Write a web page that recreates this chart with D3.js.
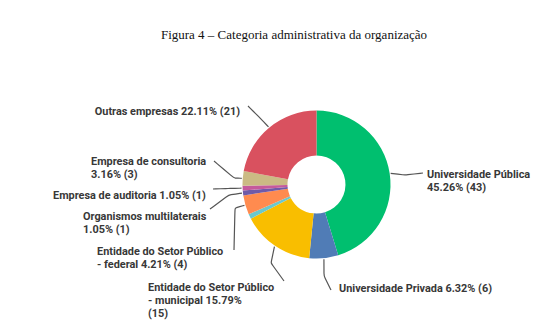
<!DOCTYPE html>
<html>
<head>
<meta charset="utf-8">
<script src="https://cdn.jsdelivr.net/npm/d3@7"></script>
<style>
  html, body { margin: 0; padding: 0; background: #fff; }
  svg { display: block; }
  .lbl { font-family: Roboto, "Open Sans", sans-serif; font-weight: 700; font-size: 10.9px; fill: #383838; }
  .title { font-family: "Liberation Serif", "Times New Roman", serif; font-size: 13px; fill: #111; }
</style>
</head>
<body>
<svg id="chart" width="546" height="335"></svg>
<script>
// Respondents by administrative category of their organization (n = 95)
const categories = [
  "Universidade Pública",
  "Universidade Privada",
  "Entidade do Setor Público - municipal",
  "Outros",
  "Entidade do Setor Público - federal",
  "Organismos multilaterais",
  "Empresa de auditoria",
  "Empresa de consultoria",
  "Outras empresas"
];
const counts = [43, 6, 15, 1, 4, 1, 1, 3, 21];
const percents = [45.26, 6.32, 15.79, 1.05, 4.21, 1.05, 1.05, 3.16, 22.11];
// text lines for each slice label (null = slice not labelled)
const labelLines = [
  ["Universidade Pública", "45.26% (43)"],
  ["Universidade Privada 6.32% (6)"],
  ["Entidade do Setor Público", "- municipal 15.79%", "(15)"],
  null,
  ["Entidade do Setor Público", "- federal 4.21% (4)"],
  ["Organismos multilaterais", "1.05% (1)"],
  ["Empresa de auditoria 1.05% (1)"],
  ["Empresa de consultoria", "3.16% (3)"],
  ["Outras empresas 22.11% (21)"]
];
const colors = ["#00bf6f", "#507cb6", "#f9be00", "#6bc8cd", "#ff8b4f", "#6f5aa8", "#c55a9c", "#cbba84", "#d9515f"];

// label placement: text origin, alignment, and leader-line path towards the slice
const layout = [
  { x: 427, y: 178, anchor: "start", start: [423, 173], elbow: [405, 175] },
  { x: 339, y: 292, anchor: "start", start: [331, 290], elbow: [324, 276] },
  { x: 148, y: 291, anchor: "start", start: [284, 281], elbow: [271, 263] },
  null,
  { x: 97,  y: 255, anchor: "start", start: [234, 250], elbow: [235, 208] },
  { x: 83,  y: 220, anchor: "start", start: [210, 209], elbow: [229, 195] },
  { x: 53,  y: 199, anchor: "start", start: [213, 189], elbow: [228, 188.5] },
  { x: 91,  y: 165, anchor: "start", start: [214, 161], elbow: [234, 178] },
  { x: 240, y: 115, anchor: "end",   start: [248, 106], elbow: [259, 117] }
];

const svg = d3.select("#chart");
const cx = 316.5, cy = 184.5, rOuter = 74, rInner = 29;

svg.append("text").attr("class", "title")
  .attr("x", 294).attr("y", 39).attr("text-anchor", "middle")
  .text("Figura 4 – Categoria administrativa da organização");

const data = categories.map((c, i) => ({ name: c, count: counts[i], pct: percents[i], i }));
const pie = d3.pie().value(d => d.count).sort(null);
const arcs = pie(data);
const arc = d3.arc().innerRadius(rInner).outerRadius(rOuter);
const anchorArc = d3.arc().innerRadius(rOuter + 1).outerRadius(rOuter + 1);

const g = svg.append("g").attr("transform", `translate(${cx},${cy})`);
g.selectAll("path.slice").data(arcs).join("path")
  .attr("class", "slice")
  .attr("d", arc)
  .attr("fill", d => colors[d.data.i]);

// leader lines
const line = d3.line().curve(d3.curveBasis);
arcs.forEach(a => {
  const L = layout[a.data.i];
  if (!L) return;
  const c = anchorArc.centroid(a);
  const end = [cx + c[0], cy + c[1]];
  const pts = [L.start, L.elbow, L.elbow, end];
  svg.append("path")
    .attr("d", line(pts))
    .attr("fill", "none")
    .attr("stroke", "#555")
    .attr("stroke-width", 1.2);
});

// labels
arcs.forEach(a => {
  const L = layout[a.data.i];
  const lines = labelLines[a.data.i];
  if (!L || !lines) return;
  const t = svg.append("text").attr("class", "lbl")
    .attr("x", L.x).attr("y", L.y).attr("text-anchor", L.anchor);
  lines.forEach((s, k) => {
    t.append("tspan").attr("x", L.x).attr("dy", k === 0 ? 0 : 13).text(s);
  });
});
</script>
</body>
</html>
